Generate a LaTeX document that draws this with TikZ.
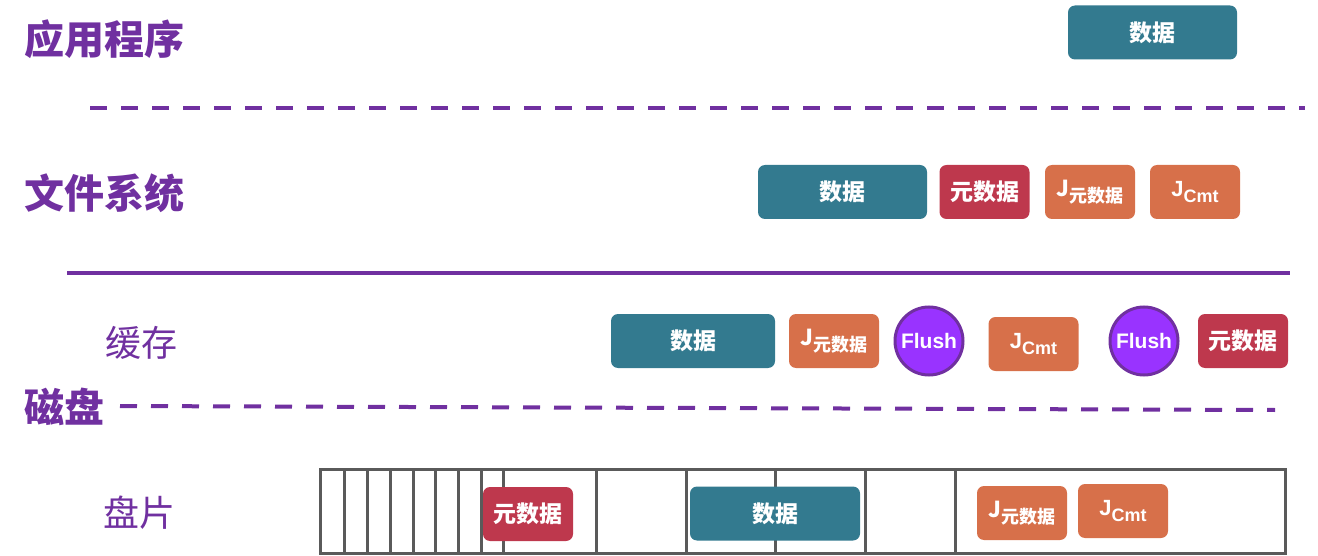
\documentclass[tikz,border=0pt]{standalone}
\usepackage{fontspec}
\setmainfont{Liberation Sans}
\newfontfamily\cjk{Noto Sans CJK SC}[BoldFont={Noto Sans CJK SC Black}]
\definecolor{layerpurple}{HTML}{7030A0}
\definecolor{datateal}{HTML}{337A8F}
\definecolor{metared}{HTML}{BE384D}
\definecolor{journalorange}{HTML}{D7704A}
\definecolor{flushviolet}{HTML}{9933FF}
\definecolor{diskgrey}{HTML}{5A5A5A}
\newcommand{\jsub}[1]{{\bfseries\fontsize{22}{22}\selectfont J}\raisebox{-6pt}{#1}}
\tikzset{
  layerlabel/.style={text=layerpurple, font=\cjk\bfseries\fontsize{40}{40}\selectfont, inner sep=0pt},
  sublabel/.style={text=layerpurple, font=\cjk\fontsize{36}{36}\selectfont, inner sep=0pt},
  block/.style={rounded corners=7pt, fill=#1, text=white, minimum height=54pt, inner sep=0pt},
  datablock/.style={block=datateal, minimum width=169pt, font=\cjk\bfseries\fontsize{23}{23}\selectfont},
  metablock/.style={block=metared, minimum width=90pt, font=\cjk\bfseries\fontsize{23}{23}\selectfont},
  jmetablock/.style={block=journalorange, minimum width=90pt, font=\cjk\bfseries\fontsize{18}{18}\selectfont},
  jcmtblock/.style={block=journalorange, minimum width=90pt, font=\bfseries\fontsize{18}{18}\selectfont},
  flushdot/.style={circle, draw=layerpurple, line width=3pt, fill=flushviolet, text=white, minimum size=68pt, inner sep=0pt, font=\bfseries\fontsize{21}{21}\selectfont},
  layerline/.style={draw=layerpurple, line width=4pt},
  layerdash/.style={layerline, dash pattern=on 17pt off 14pt},
  platter/.style={draw=diskgrey, line width=3pt}
}
\begin{document}
\begin{tikzpicture}[x=1pt, y=-1pt]
\useasboundingbox (0,0) rectangle (1318,556);

% layer names
\node (app) at (104, 39) [layerlabel] {应用程序};
\node (fs) at (104, 193) [layerlabel] {文件系统};
\node (cache) at (141, 343) [sublabel] {缓存};
\node (disk) at (64, 407) [layerlabel] {磁盘};
\node (plate) at (139, 513) [sublabel] {盘片};

% layer borders
\coordinate (appL) at (90, 108);
\coordinate (appR) at (1305, 108);
\coordinate (fsL) at (67, 273);
\coordinate (fsR) at (1290, 273);
\coordinate (diskL) at (120, 406);
\coordinate (diskR) at (1275, 410);
\draw[layerdash] (appL) -- (appR);
\draw[layerline] (fsL) -- (fsR);
\draw[layerdash] (diskL) -- (diskR);

% application
\node (appdata) at (1152.5, 32.5) [datablock] {数据};

% file system
\node (fsdata) at (842.5, 192) [datablock] {数据};
\node (fsmeta) at (984.5, 192) [metablock] {元数据};
\node (fsjmeta) at (1090, 192) [jmetablock] {\jsub{元数据}};
\node (fsjcmt) at (1195, 192) [jcmtblock] {\jsub{Cmt}};

% cache
\node (cdata) at (693, 341) [datablock, minimum width=164pt] {数据};
\node (cjmeta) at (834, 341) [jmetablock] {\jsub{元数据}};
\node (flushA) at (929, 341) [flushdot] {Flush};
\node (cjcmt) at (1033.5, 344) [jcmtblock] {\jsub{Cmt}};
\node (flushB) at (1144, 341) [flushdot] {Flush};
\node (cmeta) at (1243, 341) [metablock] {元数据};

% platter
\draw[platter] (320, 469) rectangle (1285, 553);
\foreach \sx in {344, 367, 390, 413, 435, 458, 481, 503, 596, 686, 775, 865, 955}
  \draw[platter] (\sx, 469) -- (\sx, 553);
\node (dmeta) at (528, 514) [metablock] {元数据};
\node (ddata) at (775, 513.5) [datablock, minimum width=170pt] {数据};
\node (djmeta) at (1022, 513) [jmetablock] {\jsub{元数据}};
\node (djcmt) at (1123, 511) [jcmtblock] {\jsub{Cmt}};
\end{tikzpicture}
\end{document}
